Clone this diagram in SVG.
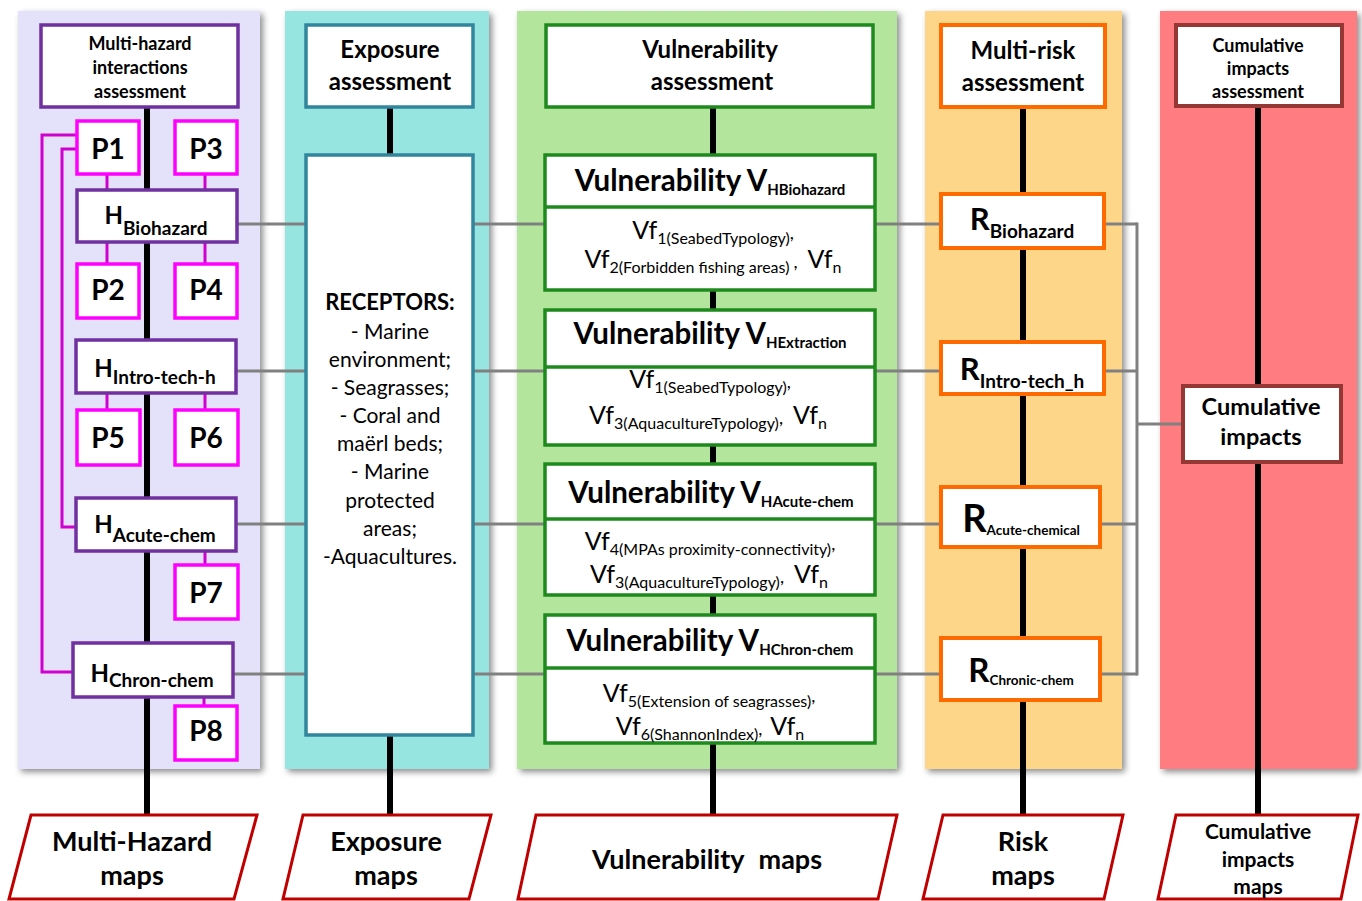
<svg xmlns="http://www.w3.org/2000/svg" width="1362" height="901" viewBox="0 0 1362 901">
<defs>
<filter id="sh" x="-5%" y="-2%" width="115%" height="106%">
<feDropShadow dx="3" dy="3" stdDeviation="3" flood-color="#000" flood-opacity="0.45"/>
</filter>
<style>
text{font-family:Lato,'Liberation Sans',sans-serif;fill:#000}
.b{font-weight:bold}
.c{text-anchor:middle}
.panel{filter:url(#sh)}
.black{stroke:#000;stroke-width:6;fill:none}
.gray{stroke:#808080;stroke-width:3;fill:none}
.mag{stroke:#D000D0;stroke-width:3;fill:none}
.pbox{fill:#fff;stroke:#FF00FF;stroke-width:3.5}
.hbox{fill:#fff;stroke:#7030A0;stroke-width:3.5}
.ebox{fill:#fff;stroke:#31859C;stroke-width:3.5}
.vbox{fill:#fff;stroke:#1E8A1E;stroke-width:3.5}
.rbox{fill:#fff;stroke:#FF6A00;stroke-width:4}
.cbox{fill:#fff;stroke:#953735;stroke-width:4}
.map{fill:#fff;stroke:#C00000;stroke-width:3}
.pt{font-size:28px;font-weight:bold;text-anchor:middle}
.vf{font-size:25px;text-anchor:middle}
.s{font-size:16px}
.vt{font-size:29.5px;font-weight:bold;text-anchor:middle}
.vs{font-size:15px}
</style>
</defs>
<rect width="1362" height="901" fill="#fff"/>
<g id="panels">
<rect class="panel" x="18" y="11" width="242" height="758" fill="#E4E2FA"/>
<rect class="panel" x="285" y="11" width="204" height="758" fill="#97E5E1"/>
<rect class="panel" x="517" y="11" width="380" height="758" fill="#B3E69C"/>
<rect class="panel" x="925" y="11" width="197" height="758" fill="#FED68A"/>
<rect class="panel" x="1160" y="11" width="197" height="758" fill="#FF7B80"/>
</g>
<g id="connectors">
<line class="black" x1="147" y1="107" x2="147" y2="816"/>
<line class="black" x1="390" y1="107" x2="390" y2="816"/>
<line class="black" x1="713" y1="107" x2="713" y2="816"/>
<line class="black" x1="1023" y1="107" x2="1023" y2="816"/>
<line class="black" x1="1258" y1="107" x2="1258" y2="816"/>
<polyline class="gray" points="237,224 1137,224"/>
<polyline class="gray" points="236,371 1137,371"/>
<polyline class="gray" points="236,524 1137,524"/>
<polyline class="gray" points="233,674 1137,674"/>
<polyline class="gray" points="1137,222.5 1137,675.5"/>
<polyline class="gray" points="1137,424 1183,424"/>
<line class="mag" x1="107" y1="174" x2="107" y2="190"/>
<line class="mag" x1="205" y1="174" x2="205" y2="190"/>
<line class="mag" x1="107" y1="242" x2="107" y2="264"/>
<line class="mag" x1="205" y1="242" x2="205" y2="264"/>
<line class="mag" x1="107" y1="393" x2="107" y2="410"/>
<line class="mag" x1="205" y1="393" x2="205" y2="410"/>
<line class="mag" x1="205" y1="551" x2="205" y2="565"/>
<line class="mag" x1="204" y1="697" x2="204" y2="706"/>
<polyline class="mag" points="77,135 42,135 42,672 73,672"/>
<polyline class="mag" points="77,149 62,149 62,527 76,527"/>
</g>
<g id="hazard-header">
<rect x="41" y="25" width="197" height="82" fill="#fff" stroke="#7030A0" stroke-width="3.5"/>
<text class="b c" x="140" y="50" font-size="18">Multi-hazard</text>
<text class="b c" x="140" y="74" font-size="18">interactions</text>
<text class="b c" x="140" y="98" font-size="18">assessment</text>
</g>
<g id="P1"><rect class="pbox" x="77" y="121" width="62" height="53"/><text class="pt" x="108" y="159">P1</text></g>
<g id="P3"><rect class="pbox" x="175" y="121" width="62" height="53"/><text class="pt" x="206" y="159">P3</text></g>
<g id="H-Biohazard"><rect class="hbox" x="77" y="190" width="160" height="52"/><text class="b c" x="156" y="224"><tspan font-size="24">H</tspan><tspan font-size="19" dy="11">Biohazard</tspan></text></g>
<g id="P2"><rect class="pbox" x="77" y="264" width="62" height="54"/><text class="pt" x="108" y="300">P2</text></g>
<g id="P4"><rect class="pbox" x="175" y="264" width="62" height="54"/><text class="pt" x="206" y="300">P4</text></g>
<g id="H-Intro"><rect class="hbox" x="76" y="340" width="160" height="53"/><text class="b c" x="155" y="377"><tspan font-size="24">H</tspan><tspan font-size="19" dy="7">Intro-tech-h</tspan></text></g>
<g id="P5"><rect class="pbox" x="77" y="410" width="63" height="55"/><text class="pt" x="108" y="448">P5</text></g>
<g id="P6"><rect class="pbox" x="175" y="410" width="63" height="55"/><text class="pt" x="206" y="448">P6</text></g>
<g id="H-Acute"><rect class="hbox" x="76" y="498" width="160" height="53"/><text class="b c" x="155" y="533"><tspan font-size="24">H</tspan><tspan font-size="19" dy="9">Acute-chem</tspan></text></g>
<g id="P7"><rect class="pbox" x="175" y="565" width="63" height="54"/><text class="pt" x="206" y="603">P7</text></g>
<g id="H-Chron"><rect class="hbox" x="73" y="643" width="160" height="54"/><text class="b c" x="152" y="682"><tspan font-size="24">H</tspan><tspan font-size="19" dy="5">Chron-chem</tspan></text></g>
<g id="P8"><rect class="pbox" x="175" y="706" width="62" height="54"/><text class="pt" x="206" y="741">P8</text></g>

<g id="exposure-header">
<rect class="ebox" x="306" y="25" width="167" height="82"/>
<text class="b c" x="390" y="58" font-size="24">Exposure</text>
<text class="b c" x="390" y="90" font-size="24">assessment</text>
</g>
<g id="receptors">
<rect class="ebox" x="306" y="155" width="167" height="580"/>
<text class="b c" x="390" y="310" font-size="22">RECEPTORS:</text>
<text class="c" x="390" y="339" font-size="21">- Marine</text>
<text class="c" x="390" y="367" font-size="21">environment;</text>
<text class="c" x="390" y="395" font-size="21">- Seagrasses;</text>
<text class="c" x="390" y="423" font-size="21">- Coral and</text>
<text class="c" x="390" y="451" font-size="21">maërl beds;</text>
<text class="c" x="390" y="479" font-size="21">- Marine</text>
<text class="c" x="390" y="508" font-size="21">protected</text>
<text class="c" x="390" y="536" font-size="21">areas;</text>
<text class="c" x="390" y="564" font-size="21">-Aquacultures.</text>
</g>

<g id="vulnerability-header">
<rect class="vbox" x="546" y="25" width="327" height="82"/>
<text class="b c" x="710" y="58" font-size="24">Vulnerability</text>
<text class="b c" x="712" y="90" font-size="24">assessment</text>
</g>
<g id="V-Biohazard">
<rect class="vbox" x="545" y="155" width="330" height="135"/>
<line x1="545" y1="207" x2="875" y2="207" stroke="#1E8A1E" stroke-width="3.5"/>
<text class="vt" x="710" y="191">Vulnerability V<tspan class="vs" dy="4">HBiohazard</tspan></text>
<text class="vf" x="713" y="239">Vf<tspan class="s" dy="5">1(SeabedTypology)</tspan><tspan dy="-5" font-size="18">,</tspan></text>
<text class="vf" x="713" y="268">Vf<tspan class="s" dy="5">2(Forbidden fishing areas)</tspan><tspan dy="-5" dx="4" font-size="18">,</tspan><tspan dx="10">Vf</tspan><tspan class="s" dy="5">n</tspan></text>
</g>
<g id="V-Extraction">
<rect class="vbox" x="545" y="310" width="330" height="135"/>
<line x1="545" y1="367" x2="875" y2="367" stroke="#1E8A1E" stroke-width="3.5"/>
<text class="vt" x="710" y="344">Vulnerability V<tspan class="vs" dy="4">HExtraction</tspan></text>
<text class="vf" x="710" y="388">Vf<tspan class="s" dy="5">1(SeabedTypology)</tspan><tspan dy="-5" font-size="18">,</tspan></text>
<text class="vf" x="708" y="424">Vf<tspan class="s" dy="5">3(AquacultureTypology)</tspan><tspan dy="-5" font-size="18">,</tspan><tspan dx="10">Vf</tspan><tspan class="s" dy="5">n</tspan></text>
</g>
<g id="V-Acute">
<rect class="vbox" x="545" y="464" width="330" height="131"/>
<line x1="545" y1="519" x2="875" y2="519" stroke="#1E8A1E" stroke-width="3.5"/>
<text class="vt" x="711" y="503">Vulnerability V<tspan class="vs" dy="4">HAcute-chem</tspan></text>
<text class="vf" x="710" y="550">Vf<tspan class="s" dy="5">4(MPAs proximity-connectivity)</tspan><tspan dy="-5" font-size="18">,</tspan></text>
<text class="vf" x="709" y="583">Vf<tspan class="s" dy="5">3(AquacultureTypology)</tspan><tspan dy="-5" font-size="18">,</tspan><tspan dx="10">Vf</tspan><tspan class="s" dy="5">n</tspan></text>
</g>
<g id="V-Chron">
<rect class="vbox" x="545" y="615" width="330" height="128"/>
<line x1="545" y1="668" x2="875" y2="668" stroke="#1E8A1E" stroke-width="3.5"/>
<text class="vt" x="710" y="651">Vulnerability V<tspan class="vs" dy="4">HChron-chem</tspan></text>
<text class="vf" x="709" y="702">Vf<tspan class="s" dy="5">5(Extension of seagrasses)</tspan><tspan dy="-5" font-size="18">,</tspan></text>
<text class="vf" x="710" y="735">Vf<tspan class="s" dy="5">6(ShannonIndex)</tspan><tspan dy="-5" font-size="18">,</tspan><tspan dx="8">Vf</tspan><tspan class="s" dy="5">n</tspan></text>
</g>

<g id="risk-header">
<rect class="rbox" x="941" y="25" width="164" height="82"/>
<text class="b c" x="1023" y="59" font-size="24">Multi-risk</text>
<text class="b c" x="1023" y="91" font-size="24">assessment</text>
</g>
<g id="R-Biohazard"><rect class="rbox" x="941" y="194" width="163" height="54"/><text class="b c" x="1022" y="230"><tspan font-size="31">R</tspan><tspan font-size="19" dy="8">Biohazard</tspan></text></g>
<g id="R-Intro"><rect class="rbox" x="941" y="342" width="163" height="52"/><text class="b c" x="1022" y="380"><tspan font-size="31">R</tspan><tspan font-size="19" dy="8">Intro-tech_h</tspan></text></g>
<g id="R-Acute"><rect class="rbox" x="941" y="487" width="159" height="60"/><text class="b c" x="1021" y="532"><tspan font-size="38">R</tspan><tspan font-size="13.5" dy="3">Acute-chemical</tspan></text></g>
<g id="R-Chronic"><rect class="rbox" x="941" y="638" width="159" height="62"/><text class="b c" x="1021" y="682"><tspan font-size="33">R</tspan><tspan font-size="13.5" dy="3">Chronic-chem</tspan></text></g>

<g id="cumulative-header">
<rect class="cbox" x="1176" y="25" width="166" height="81"/>
<text class="b c" x="1258" y="52" font-size="18">Cumulative</text>
<text class="b c" x="1258" y="75" font-size="18">impacts</text>
<text class="b c" x="1258" y="98" font-size="18">assessment</text>
</g>
<g id="cumulative-impacts">
<rect class="cbox" x="1183" y="386" width="158" height="76"/>
<text class="b c" x="1261" y="415" font-size="23.5">Cumulative</text>
<text class="b c" x="1261" y="445" font-size="23.5">impacts</text>
</g>

<g id="map-hazard"><polygon class="map" points="31,815 257,815 234,899 9,899"/>
<text class="b c" x="132" y="851" font-size="27">Multi-Hazard</text><text class="b c" x="132" y="885" font-size="27">maps</text></g>
<g id="map-exposure"><polygon class="map" points="303,815 491,815 469,899 283,899"/>
<text class="b c" x="386" y="851" font-size="27">Exposure</text><text class="b c" x="386" y="885" font-size="27">maps</text></g>
<g id="map-vulnerability"><polygon class="map" points="536,815 897,815 878,899 518,899"/>
<text class="b c" x="707" y="869" font-size="27">Vulnerability<tspan dx="14">maps</tspan></text></g>
<g id="map-risk"><polygon class="map" points="943,815 1123,815 1104,899 923,899"/>
<text class="b c" x="1023" y="851" font-size="27">Risk</text><text class="b c" x="1023" y="885" font-size="27">maps</text></g>
<g id="map-cumulative"><polygon class="map" points="1176,815 1358,815 1341,899 1158,899"/>
<text class="b c" x="1258" y="839" font-size="21">Cumulative</text><text class="b c" x="1258" y="867" font-size="21">impacts</text><text class="b c" x="1258" y="894" font-size="21">maps</text></g>
</svg>
